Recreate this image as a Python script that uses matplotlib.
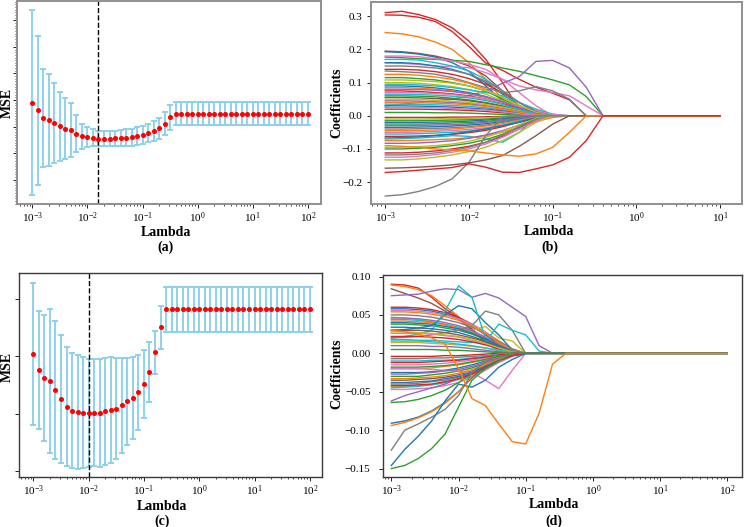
import numpy as np
import matplotlib as mpl
mpl.use('Agg')
import matplotlib.pyplot as plt
from matplotlib.ticker import MultipleLocator, NullFormatter

plt.rcParams['font.family'] = ['Liberation Serif', 'DejaVu Serif']
plt.rcParams['mathtext.fontset'] = 'stix'
plt.rcParams['font.size'] = 8

# ---- cross-validation curves (MSE, arbitrary units, no tick labels in source)
lam = np.logspace(-3, 2, 51)

mse_a = [3.12, 2.89, 2.66, 2.60, 2.51, 2.41, 2.34, 2.29, 2.19, 2.11, 2.08, 2.06, 2.04,
         2.04, 2.04, 2.05, 2.06, 2.07, 2.08, 2.11, 2.16, 2.21, 2.27, 2.35, 2.49, 2.68] + [2.79] * 25
std_a = [2.785, 2.235, 1.485, 1.38, 1.195, 1.04, 0.92, 0.82, 0.545, 0.38, 0.30, 0.255, 0.225,
         0.22, 0.225, 0.225, 0.235, 0.245, 0.255, 0.265, 0.27, 0.28, 0.29, 0.32, 0.345, 0.37] + [0.345] * 25
best_a = 10 ** -1.8

mse_c = [3.042, 2.763, 2.624, 2.572, 2.415, 2.259, 2.125, 2.056, 2.027, 2.021, 2.015, 2.021,
         2.021, 2.044, 2.061, 2.090, 2.148, 2.218, 2.276, 2.375, 2.520, 2.723, 3.071, 3.506] + [3.819] * 27
std_c = [1.238, 1.024, 1.096, 1.247, 1.204, 1.114, 1.041, 0.998, 0.992, 0.966, 0.937, 0.937,
         0.940, 0.934, 0.922, 0.882, 0.827, 0.760, 0.708, 0.650, 0.592, 0.522, 0.371, 0.371] + [0.394] * 27
best_c = 10 ** -2.0

# ---- coefficient paths, values at log10(lambda) = -3.0, -2.8, ..., -0.4 (zero afterwards)
path_exp = [-3.0, -2.8, -2.6, -2.4, -2.2, -2.0, -1.8, -1.6, -1.4, -1.2, -1.0, -0.8, -0.6, -0.4]

b_paths = [
    [0.311, 0.315, 0.305, 0.290, 0.265, 0.225, 0.170, 0.100, 0.020],
    [0.304, 0.303, 0.297, 0.284, 0.254, 0.209, 0.159, 0.137, 0.110, 0.086, 0.068, 0.048],
    [0.251, 0.247, 0.238, 0.222, 0.200, 0.160, 0.110, 0.050],
    [0.195, 0.193, 0.188, 0.180, 0.168, 0.150, 0.120, 0.075, 0.030, 0.005],
    [0.193, 0.191, 0.186, 0.177, 0.160, 0.134, 0.090, 0.045, 0.010],
    [0.177, 0.175, 0.172, 0.170, 0.167, 0.164, 0.154, 0.144, 0.134, 0.121, 0.108, 0.093, 0.058],
    [0.180, 0.180, 0.178, 0.172, 0.165, 0.155, 0.140, 0.110, 0.070, 0.030],
    [0.160, 0.158, 0.155, 0.150, 0.148, 0.145, 0.130, 0.110, 0.090, 0.078, 0.070, 0.060, 0.030],
    [0.170, 0.170, 0.168, 0.160, 0.150, 0.135, 0.110, 0.075, 0.040, 0.010],
    [0.160, 0.160, 0.157, 0.150, 0.140, 0.125, 0.100, 0.065, 0.030, 0.005],
    [0.140, 0.140, 0.138, 0.133, 0.125, 0.112, 0.095, 0.070, 0.040, 0.015],
    [0.135, 0.133, 0.130, 0.125, 0.115, 0.100, 0.085, 0.070, 0.075, 0.088, 0.075, 0.050],
    [0.125, 0.125, 0.122, 0.117, 0.110, 0.098, 0.080, 0.055, 0.030, 0.010],
    [0.115, 0.115, 0.112, 0.108, 0.100, 0.090, 0.075, 0.050, 0.025, 0.008],
    [0.030, 0.035, 0.040, 0.045, 0.050, 0.060, 0.075, 0.098, 0.118, 0.164, 0.167, 0.144, 0.086],
    [0.100, 0.100, 0.098, 0.094, 0.088, 0.079, 0.065, 0.045, 0.025, 0.008],
    [0.095, 0.095, 0.093, 0.090, 0.085, 0.078, 0.070, 0.060, 0.040, 0.020, 0.005],
    [0.090, 0.090, 0.088, 0.084, 0.078, 0.070, 0.058, 0.042, 0.025, 0.010],
    [0.085, 0.085, 0.083, 0.080, 0.075, 0.066, 0.055, 0.040, 0.022, 0.008],
    [0.075, 0.075, 0.073, 0.070, 0.066, 0.060, 0.050, 0.038, 0.022, 0.008],
    [0.070, 0.070, 0.069, 0.067, 0.064, 0.058, 0.050, 0.040, 0.028, 0.015, 0.004],
    [0.060, 0.060, 0.059, 0.057, 0.053, 0.048, 0.040, 0.030, 0.018, 0.006],
    [0.055, 0.055, 0.054, 0.052, 0.050, 0.045, 0.038, 0.028, 0.015, 0.005],
    [0.050, 0.050, 0.049, 0.047, 0.044, 0.040, 0.034, 0.026, 0.016, 0.006],
    [0.045, 0.045, 0.044, 0.042, 0.040, 0.036, 0.030, 0.022, 0.012, 0.004],
    [0.035, 0.035, 0.034, 0.033, 0.031, 0.028, 0.024, 0.018, 0.010, 0.003],
    [0.030, 0.030, 0.029, 0.028, 0.026, 0.023, 0.020, 0.015, 0.008, 0.002],
    [0.020, 0.020, 0.020, 0.019, 0.018, 0.016, 0.013, 0.009, 0.005, 0.001],
    [0.010, 0.010, 0.010, 0.009, 0.009, 0.008, 0.006, 0.004, 0.002],
    [0.150, 0.150, 0.148, 0.144, 0.137, 0.125, 0.105, 0.075, 0.040, 0.012],
    [0.108, 0.108, 0.106, 0.103, 0.098, 0.090, 0.076, 0.056, 0.032, 0.010],
    [0.080, 0.080, 0.079, 0.077, 0.073, 0.067, 0.057, 0.042, 0.024, 0.007],
    [0.065, 0.065, 0.064, 0.062, 0.059, 0.054, 0.046, 0.034, 0.019, 0.005],
    [0.040, 0.040, 0.039, 0.038, 0.036, 0.033, 0.028, 0.020, 0.011, 0.003],
    [0.025, 0.025, 0.025, 0.024, 0.022, 0.020, 0.017, 0.012, 0.006, 0.001],
    [-0.005, -0.005, -0.005, -0.005, -0.004, -0.004, -0.003, -0.002, -0.001],
    [-0.010, -0.010, -0.010, -0.009, -0.009, -0.008, -0.006, -0.004, -0.002],
    [-0.015, -0.015, -0.015, -0.014, -0.013, -0.012, -0.010, -0.007, -0.004, -0.001],
    [-0.020, -0.020, -0.020, -0.019, -0.018, -0.016, -0.013, -0.009, -0.004, -0.001],
    [-0.025, -0.025, -0.025, -0.024, -0.022, -0.020, -0.017, -0.012, -0.007, -0.002],
    [-0.030, -0.030, -0.029, -0.028, -0.027, -0.024, -0.020, -0.014, -0.007, -0.002],
    [-0.035, -0.035, -0.034, -0.033, -0.031, -0.028, -0.024, -0.018, -0.010, -0.003],
    [-0.040, -0.040, -0.039, -0.038, -0.036, -0.033, -0.028, -0.020, -0.011, -0.003],
    [-0.045, -0.045, -0.044, -0.043, -0.040, -0.036, -0.031, -0.024, -0.014, -0.005],
    [-0.050, -0.050, -0.049, -0.047, -0.045, -0.041, -0.036, -0.028, -0.018, -0.007],
    [-0.055, -0.055, -0.054, -0.052, -0.050, -0.046, -0.039, -0.029, -0.016, -0.005],
    [-0.062, -0.062, -0.061, -0.059, -0.056, -0.051, -0.044, -0.033, -0.019, -0.006],
    [-0.067, -0.066, -0.064, -0.060, -0.055, -0.048, -0.040, -0.030, -0.020, -0.008],
    [-0.070, -0.069, -0.067, -0.064, -0.060, -0.062, -0.070, -0.080, -0.050, -0.005],
    [-0.075, -0.075, -0.074, -0.072, -0.070, -0.066, -0.060, -0.050, -0.035, -0.018, -0.005],
    [-0.083, -0.083, -0.082, -0.079, -0.075, -0.068, -0.058, -0.045, -0.028, -0.010],
    [-0.095, -0.095, -0.093, -0.090, -0.085, -0.077, -0.065, -0.048, -0.027, -0.008],
    [-0.100, -0.100, -0.098, -0.095, -0.090, -0.083, -0.072, -0.056, -0.035, -0.012],
    [-0.112, -0.112, -0.110, -0.106, -0.100, -0.092, -0.080, -0.062, -0.040, -0.015],
    [-0.118, -0.118, -0.116, -0.112, -0.105, -0.095, -0.080, -0.058, -0.032, -0.010],
    [-0.125, -0.125, -0.122, -0.117, -0.110, -0.100, -0.085, -0.065, -0.040, -0.015],
    [-0.133, -0.133, -0.130, -0.125, -0.118, -0.108, -0.095, -0.075, -0.050, -0.020],
    [-0.242, -0.238, -0.228, -0.213, -0.190, -0.140, -0.060, -0.003],
    [-0.158, -0.157, -0.155, -0.152, -0.148, -0.142, -0.133, -0.120, -0.092, -0.060, -0.025],
    [-0.090, -0.092, -0.095, -0.100, -0.103, -0.106, -0.112, -0.118, -0.122, -0.115, -0.095, -0.050],
    [-0.171, -0.168, -0.164, -0.160, -0.156, -0.145, -0.155, -0.170, -0.171, -0.160, -0.148, -0.125, -0.075],
]
b_colors = "rronbgppcb" "rkogvycbor" "pgnyvcbrgk" "yvcoprygbg" "vbkopcrbco" "vygrkpyknor"

d_paths = [
    [0.090, 0.089, 0.085, 0.073, 0.058, 0.047, 0.032, 0.015, 0.003],
    [0.089, 0.087, 0.083, 0.075, 0.062, 0.048, 0.030, 0.015, 0.004],
    [0.084, 0.078, 0.072, 0.065, 0.055, 0.045, 0.030, 0.015, 0.004],
    [0.075, 0.076, 0.077, 0.081, 0.084, 0.083, 0.073, 0.078, 0.072, 0.060, 0.048, 0.010],
    [0.060, 0.060, 0.059, 0.057, 0.053, 0.047, 0.038, 0.026, 0.013, 0.003],
    [0.058, 0.058, 0.057, 0.055, 0.051, 0.045, 0.036, 0.024, 0.012, 0.002],
    [0.056, 0.056, 0.055, 0.053, 0.050, 0.045, 0.038, 0.028, 0.016, 0.005],
    [0.050, 0.050, 0.049, 0.047, 0.044, 0.040, 0.034, 0.026, 0.016, 0.006],
    [0.047, 0.046, 0.044, 0.041, 0.037, 0.032, 0.030, 0.035, 0.020, 0.016],
    [0.044, 0.044, 0.043, 0.041, 0.038, 0.034, 0.028, 0.020, 0.011, 0.003],
    [0.042, 0.042, 0.041, 0.040, 0.037, 0.033, 0.027, 0.020, 0.012, 0.004],
    [0.038, 0.038, 0.037, 0.036, 0.033, 0.030, 0.025, 0.018, 0.010, 0.003],
    [0.030, 0.031, 0.033, 0.036, 0.050, 0.062, 0.058, 0.040, 0.024, 0.004],
    [0.020, 0.022, 0.025, 0.030, 0.055, 0.088, 0.073, 0.020],
    [0.020, 0.021, 0.022, 0.024, 0.027, 0.030, 0.036, 0.055, 0.050, 0.030],
    [0.018, 0.018, 0.017, 0.017, 0.016, 0.015, 0.014, 0.015, 0.038, 0.030, 0.024, 0.003],
    [0.034, 0.034, 0.033, 0.032, 0.030, 0.027, 0.022, 0.016, 0.009, 0.002],
    [0.030, 0.030, 0.030, 0.029, 0.027, 0.024, 0.020, 0.015, 0.008, 0.002],
    [0.026, 0.026, 0.026, 0.025, 0.023, 0.021, 0.017, 0.012, 0.006, 0.001],
    [0.022, 0.022, 0.022, 0.021, 0.020, 0.018, 0.015, 0.011, 0.006, 0.001],
    [0.014, 0.014, 0.014, 0.013, 0.012, 0.011, 0.009, 0.007, 0.004, 0.001],
    [0.010, 0.010, 0.010, 0.009, 0.009, 0.008, 0.006, 0.004, 0.002],
    [0.005, 0.005, 0.005, 0.005, 0.004, 0.004, 0.003, 0.002, 0.001],
    [0.054, 0.054, 0.053, 0.051, 0.048, 0.043, 0.036, 0.026, 0.014, 0.004],
    [0.046, 0.046, 0.045, 0.043, 0.040, 0.036, 0.030, 0.021, 0.011, 0.003],
    [0.040, 0.040, 0.039, 0.038, 0.035, 0.032, 0.026, 0.019, 0.010, 0.003],
    [0.028, 0.028, 0.027, 0.026, 0.024, 0.022, 0.018, 0.013, 0.007, 0.002],
    [0.016, 0.016, 0.016, 0.015, 0.014, 0.012, 0.010, 0.007, 0.004, 0.001],
    [-0.004, -0.004, -0.004, -0.004, -0.003, -0.003, -0.002, -0.001],
    [-0.007, -0.007, -0.007, -0.006, -0.006, -0.005, -0.004, -0.003, -0.001],
    [-0.010, -0.010, -0.010, -0.009, -0.009, -0.008, -0.006, -0.004, -0.002],
    [-0.015, -0.015, -0.015, -0.014, -0.013, -0.011, -0.009, -0.006, -0.003],
    [-0.020, -0.020, -0.020, -0.019, -0.017, -0.015, -0.012, -0.008, -0.004, -0.001],
    [-0.025, -0.025, -0.025, -0.024, -0.022, -0.019, -0.015, -0.010, -0.005, -0.001],
    [-0.030, -0.030, -0.030, -0.028, -0.026, -0.023, -0.019, -0.013, -0.007, -0.002],
    [-0.035, -0.035, -0.034, -0.033, -0.031, -0.028, -0.023, -0.016, -0.009, -0.003],
    [-0.040, -0.040, -0.039, -0.037, -0.035, -0.031, -0.026, -0.018, -0.010, -0.003],
    [-0.043, -0.043, -0.042, -0.041, -0.038, -0.034, -0.028, -0.020, -0.011, -0.003],
    [-0.047, -0.047, -0.046, -0.045, -0.042, -0.038, -0.031, -0.022, -0.012, -0.004],
    [-0.045, -0.044, -0.043, -0.041, -0.038, -0.034, -0.030, -0.020, -0.008],
    [-0.020, -0.020, -0.020, -0.021, -0.022, -0.023, -0.025, -0.035, -0.046, -0.022],
    [-0.062, -0.055, -0.050, -0.045, -0.040, -0.033, -0.024, -0.013, -0.004],
    [-0.064, -0.063, -0.060, -0.055, -0.048, -0.038, -0.026, -0.014, -0.004],
    [-0.091, -0.088, -0.083, -0.075, -0.064, -0.050, -0.032, -0.015, -0.004],
    [-0.094, -0.090, -0.084, -0.076, -0.065, -0.050, -0.030, -0.014, -0.004],
    [-0.012, -0.012, -0.012, -0.011, -0.010, -0.009, -0.007, -0.005, -0.002],
    [-0.018, -0.018, -0.018, -0.017, -0.016, -0.014, -0.011, -0.008, -0.004, -0.001],
    [-0.027, -0.027, -0.026, -0.025, -0.023, -0.021, -0.017, -0.012, -0.006, -0.002],
    [-0.033, -0.033, -0.032, -0.031, -0.029, -0.026, -0.021, -0.015, -0.008, -0.002],
    [-0.038, -0.038, -0.037, -0.036, -0.033, -0.030, -0.025, -0.017, -0.009, -0.003],
    [-0.042, -0.042, -0.041, -0.040, -0.037, -0.033, -0.027, -0.019, -0.010, -0.003],
    [-0.126, -0.100, -0.092, -0.083, -0.073, -0.055, -0.025, -0.010],
    [-0.146, -0.125, -0.108, -0.088, -0.062, -0.040, -0.044, -0.035, -0.018, -0.008],
    [-0.150, -0.146, -0.137, -0.124, -0.105, -0.070, -0.035, -0.020, -0.010],
    [0.030, 0.028, 0.025, 0.020, 0.012, -0.020, -0.059, -0.068, -0.092, -0.115, -0.118, -0.078, -0.014],
]
d_colors = "ronvrbpkyc" "ogbckcbnpr" "yvgovbycrk" "cpobgnkypc" "pvgborgvob" "rkbgo"

palette = {'b': '#1f77b4', 'o': '#ff7f0e', 'g': '#2ca02c', 'r': '#d62728', 'v': '#9467bd',
           'n': '#8c564b', 'p': '#e377c2', 'k': '#7f7f7f', 'y': '#bcbd22', 'c': '#17becf'}


def style_axes(ax, edge, lw):
    for s in ax.spines.values():
        s.set_edgecolor(edge)
        s.set_linewidth(lw)
    ax.tick_params(which='major', length=3, width=0.6, direction='out')
    ax.tick_params(which='minor', length=1.6, width=0.5, direction='out')
    ax.tick_params(axis='x', which='both', pad=1.5)


def draw_cv(ax, mse, std, best, xlim, ylim):
    ax.errorbar(lam, mse, yerr=std, fmt='o', color='red', ms=2.6, mec='red',
                ecolor='#87CEEB', elinewidth=1.3, capsize=2.3, capthick=1.3)
    ax.axvline(best, color='black', ls='--', lw=1.0)
    ax.set_xscale('log')
    ax.set_xlim(*xlim)
    ax.set_ylim(*ylim)
    ax.yaxis.set_major_formatter(NullFormatter())


def draw_paths(ax, paths, colors, x_end):
    assert len(paths) == len(colors)
    x = list(10 ** np.array(path_exp)) + [x_end]
    for vals, c in zip(paths, colors):
        y = list(vals) + [0.0] * (len(x) - len(vals))
        ax.plot(x, y, color=palette[c], lw=1.0)
    ax.set_xscale('log')


fig = plt.figure(figsize=(7.44, 5.27), dpi=100)
ax_a = fig.add_axes([0.0228, 0.6129, 0.4087, 0.3851])
ax_b = fig.add_axes([0.4987, 0.6129, 0.4986, 0.3833])
ax_c = fig.add_axes([0.0255, 0.0943, 0.4073, 0.3871])
ax_d = fig.add_axes([0.5148, 0.0949, 0.4825, 0.3833])

# (a)
draw_cv(ax_a, mse_a, std_a, best_a, (10 ** -3.28, 10 ** 2.24), (0.07, 6.18))
ax_a.yaxis.set_major_locator(MultipleLocator(0.8))
ax_a.yaxis.set_minor_locator(MultipleLocator(0.08))
style_axes(ax_a, '#8f8f8f', 1.4)

# (c)
draw_cv(ax_c, mse_c, std_c, best_c, (10 ** -3.26, 10 ** 2.22), (0.896, 4.445))
ax_c.set_yticks([1, 2, 3, 4])
style_axes(ax_c, '#3a3a3a', 1.0)

# (b)
draw_paths(ax_b, b_paths, b_colors, 10.0)
ax_b.set_xlim(10 ** -3.17, 10 ** 1.26)
ax_b.set_ylim(-0.266, 0.343)
ax_b.set_yticks([-0.2, -0.1, 0.0, 0.1, 0.2, 0.3])
style_axes(ax_b, '#8f8f8f', 1.4)

# (d)
draw_paths(ax_d, d_paths, d_colors, 100.0)
ax_d.set_xlim(10 ** -3.124, 10 ** 2.22)
ax_d.set_ylim(-0.161, 0.102)
ax_d.set_yticks([-0.15, -0.10, -0.05, 0.0, 0.05, 0.10])
ax_d.tick_params(axis='y', pad=6)
style_axes(ax_d, '#3a3a3a', 1.0)

lab = dict(fontsize=10, fontweight='bold', va='center', ha='center')
for ax, xl, yl, ylab, ylx, yly, letter, lx, ly in [
        (ax_a, 0.489, -0.140, 'MSE', -0.033, 0.5, '(a)', 0.489, -0.214),
        (ax_b, 0.479, -0.135, 'Coefficients', -0.0925, 0.5, '(b)', 0.482, -0.214),
        (ax_c, 0.472, -0.142, 'MSE', -0.040, 0.541, '(c)', 0.472, -0.215),
        (ax_d, 0.475, -0.136, 'Coefficients', -0.129, 0.51, '(d)', 0.475, -0.217)]:
    ax.set_xlabel('Lambda', **lab)
    ax.xaxis.set_label_coords(xl, yl)
    ax.set_ylabel(ylab, **lab)
    ax.yaxis.set_label_coords(ylx, yly)
    ax.text(lx, ly, letter, transform=ax.transAxes, **lab)

fig.savefig('out.png', dpi=100)
